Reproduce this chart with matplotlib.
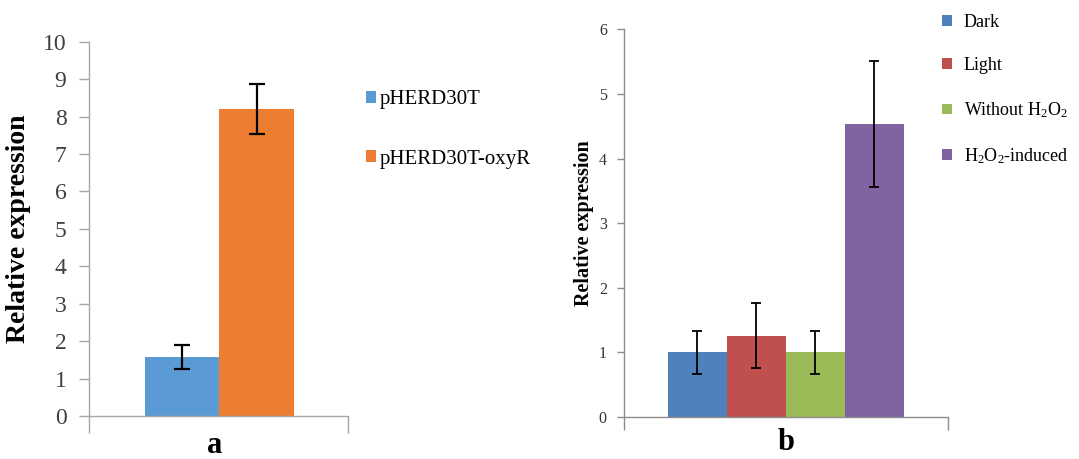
import matplotlib
matplotlib.use("Agg")
import matplotlib.pyplot as plt
import numpy as np

plt.rcParams['font.family'] = ['Liberation Serif', 'DejaVu Serif']
plt.rcParams['mathtext.fontset'] = 'custom'
plt.rcParams['mathtext.rm'] = 'Liberation Serif'
plt.rcParams['mathtext.it'] = 'Liberation Serif:italic'
plt.rcParams['mathtext.bf'] = 'Liberation Serif:bold'

# Panel a data
a_labels = ['pHERD30T', 'pHERD30T-oxyR']
a_values = [1.57, 8.20]
a_errors = [0.32, 0.66]
a_colors = ['#5B9BD5', '#ED7D31']
a_yticks = list(range(0, 11))

# Panel b data
b_labels = ['Dark', 'Light', r'Without H$_2$O$_2$', r'H$_2$O$_2$-induced']
b_values = [1.00, 1.26, 1.00, 4.53]
b_errors = [0.335, 0.50, 0.335, 0.975]
b_colors = ['#4F81BD', '#C0504D', '#9BBB59', '#8064A2']
b_yticks = list(range(0, 7))

W, H = 1079, 459
fig = plt.figure(figsize=(W / 100, H / 100), dpi=100)

spine_col = '#A6A6A6'

def setup(ax, xlim, ylim, col):
    ax.set_xlim(*xlim)
    ax.set_ylim(*ylim)
    for s in ['top', 'right']:
        ax.spines[s].set_visible(False)
    for s in ['left', 'bottom']:
        ax.spines[s].set_color(col)
        ax.spines[s].set_linewidth(1.0)
    ax.set_xticks(list(xlim))
    ax.set_xticklabels(['', ''])

# ---------------- Panel a ----------------
a_l, a_r, a_b, a_t = 88.7, 348, 416, 41.7
ax1 = fig.add_axes([a_l / W, 1 - a_b / H, (a_r - a_l) / W, (a_b - a_t) / H])
wa = 0.287
n = len(a_values)
xa = (np.arange(n) - (n - 1) / 2) * wa
bars_a = ax1.bar(xa, a_values, width=wa, color=a_colors, yerr=a_errors,
                 error_kw=dict(ecolor='black', elinewidth=1.6, capsize=5.5, capthick=1.6))
setup(ax1, (-0.504, 0.496), (0, 10), spine_col)
ax1.set_yticks(a_yticks)
ax1.tick_params(axis='y', direction='out', length=7, width=1, color=spine_col,
                labelsize=17, labelcolor='#404040', pad=9)
ax1.tick_params(axis='x', direction='out', length=12, width=1, color=spine_col)
ax1.set_ylabel('Relative expression', fontsize=20, fontweight='bold')
ax1.yaxis.set_label_coords((31 - a_l) / (a_r - a_l), 0.5)
ax1.text((215 - a_l) / (a_r - a_l), (a_b - 453) / (a_b - a_t), 'a', transform=ax1.transAxes,
         ha='center', va='baseline', fontsize=22, fontweight='bold')
fig.legend(bars_a.patches, a_labels, loc='upper left',
           bbox_to_anchor=(366 / W, 1 - 90 / H), frameon=False, fontsize=15,
           handlelength=0.5, handleheight=0.5, handletextpad=0.15,
           labelspacing=1.95, borderpad=0, borderaxespad=0)

# ---------------- Panel b ----------------
b_l, b_r, b_b, b_t = 623.5, 947.9, 417, 29.3
ax2 = fig.add_axes([b_l / W, 1 - b_b / H, (b_r - b_l) / W, (b_b - b_t) / H])
wb = 0.1817
m = len(b_values)
xb = (np.arange(m) - (m - 1) / 2) * wb
bars_b = ax2.bar(xb, b_values, width=wb, color=b_colors, yerr=b_errors,
                 error_kw=dict(ecolor='black', elinewidth=1.3, capsize=3.5, capthick=1.3))
setup(ax2, (-0.5, 0.5), (0, 6), '#8C8C8C')
ax2.set_yticks(b_yticks)
ax2.tick_params(axis='y', direction='out', length=5, width=1, color='#8C8C8C',
                labelsize=11.5, labelcolor='#333333', pad=7)
ax2.tick_params(axis='x', direction='out', length=9, width=1, color='#8C8C8C')
ax2.set_ylabel('Relative expression', fontsize=14.5, fontweight='bold')
ax2.yaxis.set_label_coords((594 - b_l) / (b_r - b_l), 0.5)
ax2.text(0.5, (b_b - 450) / (b_b - b_t), 'b', transform=ax2.transAxes,
         ha='center', va='baseline', fontsize=22, fontweight='bold')
fig.legend(bars_b.patches, b_labels, loc='upper left',
           bbox_to_anchor=(942 / W, 1 - 14 / H), frameon=False, fontsize=13,
           handlelength=0.55, handleheight=0.55, handletextpad=0.65,
           labelspacing=1.45, borderpad=0, borderaxespad=0)

fig.savefig('out.png', dpi=100)
